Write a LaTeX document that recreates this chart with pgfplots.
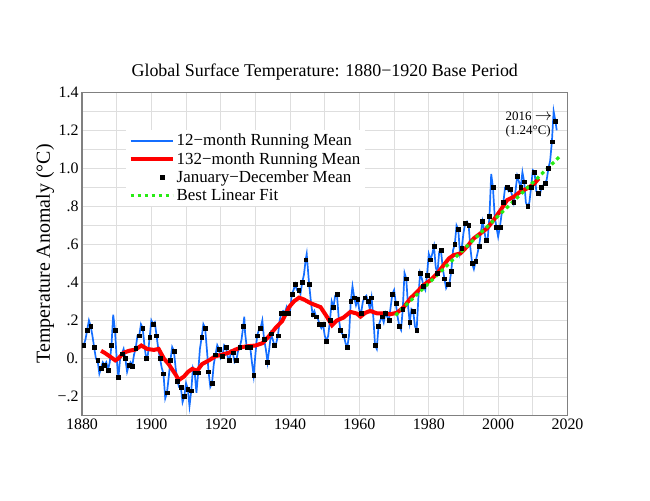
\documentclass[border=0pt]{standalone}
\usepackage{pgfplots}
\pgfplotsset{compat=1.18}
\usepackage{fontspec}
\setmainfont{Liberation Serif}
\definecolor{gridgray}{RGB}{222,222,222}
\definecolor{framegray}{RGB}{128,128,128}
\definecolor{myblue}{RGB}{20,110,255}
\definecolor{mygreen}{RGB}{40,235,20}

\pgfplotstableread{
x y
1880.5 0.07
1881.5 0.15
1882.5 0.17
1883.5 0.06
1884.5 -0.01
1885.5 -0.05
1886.5 -0.035
1887.5 -0.06
1888.5 0.07
1889.5 0.15
1890.5 -0.10
1891.5 0.025
1892.5 0.00
1893.5 -0.035
1894.5 -0.04
1895.5 0.055
1896.5 0.12
1897.5 0.16
1898.5 0.00
1899.5 0.11
1900.5 0.18
1901.5 0.12
1902.5 0.00
1903.5 -0.08
1904.5 -0.18
1905.5 -0.01
1906.5 0.04
1907.5 -0.12
1908.5 -0.15
1909.5 -0.20
1910.5 -0.16
1911.5 -0.17
1912.5 -0.075
1913.5 -0.075
1914.5 0.11
1915.5 0.16
1916.5 -0.07
1917.5 -0.13
1918.5 0.02
1919.5 0.05
1920.5 0.01
1921.5 0.06
1922.5 -0.01
1923.5 0.03
1924.5 -0.01
1925.5 0.06
1926.5 0.17
1927.5 0.06
1928.5 0.06
1929.5 -0.09
1930.5 0.12
1931.5 0.16
1932.5 0.10
1933.5 -0.02
1934.5 0.13
1935.5 0.07
1936.5 0.12
1937.5 0.24
1938.5 0.24
1939.5 0.24
1940.5 0.34
1941.5 0.39
1942.5 0.36
1943.5 0.40
1944.5 0.52
1945.5 0.39
1946.5 0.23
1947.5 0.22
1948.5 0.18
1949.5 0.18
1950.5 0.09
1951.5 0.20
1952.5 0.27
1953.5 0.34
1954.5 0.15
1955.5 0.12
1956.5 0.06
1957.5 0.30
1958.5 0.32
1959.5 0.31
1960.5 0.24
1961.5 0.32
1962.5 0.30
1963.5 0.32
1964.5 0.07
1965.5 0.17
1966.5 0.22
1967.5 0.24
1968.5 0.20
1969.5 0.34
1970.5 0.29
1971.5 0.17
1972.5 0.26
1973.5 0.42
1974.5 0.19
1975.5 0.25
1976.5 0.15
1977.5 0.45
1978.5 0.38
1979.5 0.44
1980.5 0.52
1981.5 0.59
1982.5 0.45
1983.5 0.57
1984.5 0.42
1985.5 0.39
1986.5 0.46
1987.5 0.60
1988.5 0.68
1989.5 0.58
1990.5 0.71
1991.5 0.70
1992.5 0.50
1993.5 0.51
1994.5 0.59
1995.5 0.72
1996.5 0.62
1997.5 0.75
1998.5 0.90
1999.5 0.69
2000.5 0.69
2001.5 0.82
2002.5 0.90
2003.5 0.89
2004.5 0.82
2005.5 0.96
2006.5 0.90
2007.5 0.93
2008.5 0.80
2009.5 0.90
2010.5 0.98
2011.5 0.87
2012.5 0.90
2013.5 0.92
2014.5 1.00
2015.5 1.14
2016.5 1.25
}\annual

\pgfplotstableread{
x y
1880.5 0.07
1881.0 0.10
1881.5 0.15
1882.0 0.20
1882.5 0.17
1883.0 0.12
1883.5 0.06
1884.0 0.00
1884.5 -0.01
1885.0 -0.08
1885.5 -0.05
1886.0 -0.02
1886.5 -0.035
1887.0 -0.02
1887.5 -0.06
1888.0 -0.02
1888.5 0.07
1889.0 0.23
1889.5 0.15
1890.0 0.00
1890.5 -0.10
1891.0 0.00
1891.5 0.025
1892.0 0.05
1892.5 0.00
1893.0 -0.07
1893.5 -0.035
1894.0 -0.02
1894.5 -0.04
1895.0 0.02
1895.5 0.055
1896.0 0.12
1896.5 0.12
1897.0 0.18
1897.5 0.16
1898.0 0.07
1898.5 0.00
1899.0 0.02
1899.5 0.11
1900.0 0.20
1900.5 0.18
1901.0 0.19
1901.5 0.12
1902.0 0.05
1902.5 0.00
1903.0 -0.05
1903.5 -0.08
1904.0 -0.21
1904.5 -0.18
1905.0 -0.10
1905.5 -0.01
1906.0 0.06
1906.5 0.04
1907.0 -0.05
1907.5 -0.12
1908.0 -0.15
1908.5 -0.15
1909.0 -0.23
1909.5 -0.20
1910.0 -0.13
1910.5 -0.16
1911.0 -0.25
1911.5 -0.17
1912.0 -0.05
1912.5 -0.075
1913.0 -0.18
1913.5 -0.075
1914.0 0.05
1914.5 0.11
1915.0 0.18
1915.5 0.16
1916.0 0.05
1916.5 -0.07
1917.0 -0.15
1917.5 -0.13
1918.0 -0.03
1918.5 0.02
1919.0 0.07
1919.5 0.05
1920.0 0.00
1920.5 0.01
1921.0 0.07
1921.5 0.06
1922.0 0.01
1922.5 -0.01
1923.0 0.04
1923.5 0.03
1924.0 -0.02
1924.5 -0.01
1925.0 0.04
1925.5 0.06
1926.0 0.10
1926.5 0.17
1926.8 0.22
1927.0 0.14
1927.5 0.06
1928.0 0.06
1928.5 0.06
1929.0 -0.02
1929.5 -0.09
1930.0 0.02
1930.5 0.12
1931.0 0.15
1931.5 0.16
1932.0 0.20
1932.5 0.10
1933.0 0.05
1933.5 -0.02
1934.0 0.05
1934.5 0.13
1935.0 0.10
1935.5 0.07
1936.0 0.08
1936.5 0.12
1937.0 0.20
1937.5 0.24
1938.0 0.25
1938.5 0.24
1939.0 0.27
1939.5 0.24
1940.0 0.25
1940.5 0.34
1941.0 0.36
1941.5 0.39
1942.0 0.36
1942.5 0.36
1943.0 0.34
1943.5 0.40
1944.0 0.44
1944.5 0.52
1944.8 0.55
1945.0 0.50
1945.5 0.39
1946.0 0.30
1946.5 0.23
1947.0 0.25
1947.5 0.22
1948.0 0.21
1948.5 0.18
1949.0 0.16
1949.5 0.18
1950.0 0.12
1950.5 0.09
1951.0 0.12
1951.5 0.20
1952.0 0.30
1952.5 0.27
1953.0 0.33
1953.5 0.34
1954.0 0.22
1954.5 0.15
1955.0 0.13
1955.5 0.12
1956.0 0.08
1956.5 0.06
1957.0 0.12
1957.5 0.30
1958.0 0.38
1958.5 0.32
1959.0 0.28
1959.5 0.31
1960.0 0.25
1960.5 0.24
1961.0 0.30
1961.5 0.32
1962.0 0.33
1962.5 0.30
1963.0 0.26
1963.5 0.32
1964.0 0.22
1964.5 0.07
1965.0 0.05
1965.5 0.17
1966.0 0.20
1966.5 0.22
1967.0 0.19
1967.5 0.24
1968.0 0.22
1968.5 0.20
1969.0 0.27
1969.5 0.34
1970.0 0.36
1970.5 0.29
1971.0 0.22
1971.5 0.17
1972.0 0.15
1972.5 0.26
1973.0 0.45
1973.5 0.42
1974.0 0.28
1974.5 0.19
1975.0 0.26
1975.5 0.25
1976.0 0.17
1976.5 0.15
1977.0 0.32
1977.5 0.45
1978.0 0.42
1978.5 0.38
1979.0 0.36
1979.5 0.44
1980.0 0.55
1980.5 0.52
1981.0 0.55
1981.5 0.59
1982.0 0.48
1982.5 0.45
1983.0 0.56
1983.5 0.57
1984.0 0.48
1984.5 0.42
1985.0 0.37
1985.5 0.39
1986.0 0.40
1986.5 0.46
1987.0 0.57
1987.5 0.60
1988.0 0.70
1988.5 0.68
1989.0 0.55
1989.5 0.58
1990.0 0.66
1990.5 0.71
1991.0 0.72
1991.5 0.70
1992.0 0.58
1992.5 0.50
1993.0 0.47
1993.5 0.51
1994.0 0.55
1994.5 0.59
1995.0 0.66
1995.5 0.72
1996.0 0.67
1996.5 0.62
1997.0 0.63
1997.5 0.75
1998.0 0.97
1998.5 0.90
1999.0 0.75
1999.5 0.69
2000.0 0.64
2000.5 0.69
2001.0 0.76
2001.5 0.82
2002.0 0.90
2002.5 0.90
2003.0 0.88
2003.5 0.89
2004.0 0.86
2004.5 0.82
2005.0 0.88
2005.5 0.96
2006.0 0.93
2006.5 0.90
2007.0 0.98
2007.5 0.93
2008.0 0.82
2008.5 0.80
2009.0 0.82
2009.5 0.90
2010.0 0.99
2010.5 0.98
2011.0 0.88
2011.5 0.87
2012.0 0.86
2012.5 0.90
2013.0 0.91
2013.5 0.92
2014.0 0.94
2014.5 1.00
2015.0 1.04
2015.5 1.14
2016.0 1.30
2016.5 1.25
2016.9 1.20
}\monthly

\pgfplotstableread{
x y
1885.5 0.04
1886.5 0.03
1887.7 0.015
1889.6 -0.01
1890.5 0.00
1892.0 0.03
1893.5 0.04
1895.4 0.047
1897.1 0.068
1898.8 0.05
1900.7 0.045
1902.1 0.05
1903.6 0.00
1905.0 -0.03
1907.0 -0.085
1907.9 -0.114
1909.4 -0.095
1910.6 -0.07
1911.8 -0.055
1913.2 -0.065
1914.6 -0.03
1916.6 -0.01
1918.5 0.012
1920.4 0.02
1922.3 0.03
1924.3 0.047
1926.2 0.06
1928.1 0.065
1930.0 0.068
1932.0 0.08
1933.9 0.117
1935.8 0.16
1937.7 0.196
1939.7 0.27
1941.1 0.30
1942.6 0.32
1944.0 0.31
1946.0 0.29
1947.4 0.28
1948.8 0.27
1950.6 0.22
1952.1 0.175
1953.5 0.20
1955.4 0.215
1957.4 0.245
1959.3 0.236
1960.3 0.22
1961.7 0.24
1963.1 0.25
1965.1 0.237
1967.0 0.237
1968.9 0.233
1970.8 0.24
1972.8 0.27
1974.7 0.316
1976.6 0.35
1978.5 0.386
1980.5 0.412
1982.4 0.447
1984.3 0.491
1985.8 0.526
1987.2 0.544
1989.1 0.552
1991.0 0.588
1993.0 0.632
1994.9 0.658
1996.8 0.684
1998.7 0.728
2000.7 0.78
2002.6 0.833
2004.5 0.85
2006.4 0.877
2008.4 0.895
2010.3 0.917
2011.7 0.947
}\smooth

\begin{document}
\begin{tikzpicture}
\path[use as bounding box] (0,0) rectangle (650bp,501bp);
\begin{axis}[
  at={(82bp,85.5bp)}, anchor=south west, scale only axis,
  width=485.5bp, height=323.2bp,
  xmin=1880, xmax=2020, ymin=-0.3, ymax=1.4,
  xtick={1880,1900,1920,1940,1960,1980,2000,2020},
  xticklabels={1880,1900,1920,1940,1960,1980,2000,2020},
  minor xtick={1890,1910,1930,1950,1970,1990,2010},
  ytick={-0.2,0,0.2,0.4,0.6,0.8,1.0,1.2,1.4},
  yticklabels={−.2,0.,.2,.4,.6,.8,1.0,1.2,1.4},
  minor ytick={-0.1,0.1,0.3,0.5,0.7,0.9,1.1,1.3},
  grid=both,
  major grid style={gridgray, line width=0.9bp},
  minor grid style={gridgray, line width=0.9bp},
  axis line style={framegray, line width=1.1bp},
  major tick length=0pt, minor tick length=0pt,
  tick label style={font=\fontsize{16}{16}\selectfont},
  title={Global Surface Temperature: 1880−1920 Base Period},
  title style={font=\fontsize{18}{18}\selectfont, at={(axis description cs:0.5,1)}, anchor=base, yshift=10.3bp},
  ylabel={Temperature Anomaly (°C)},
  ylabel style={font=\fontsize{20}{20}\selectfont, at={(axis description cs:-0.076,0.5)}, anchor=center},
  legend style={at={(axis description cs:0.0896,0.8834)}, anchor=north west, draw=none, fill=white,
    font=\fontsize{17}{17}\selectfont, row sep=1.2bp},
  legend cell align=left,
]
\addplot[myblue, line width=1.7bp, legend image code/.code={\draw[myblue, line width=1.5bp] (0bp,0bp) -- (42bp,0bp);}] table[x=x,y=y] {\monthly};
\addlegendentry{12−month Running Mean}
\addplot[red, line width=4bp, legend image code/.code={\draw[red, line width=4bp] (0bp,0bp) -- (42bp,0bp);}] table[x=x,y=y] {\smooth};
\addlegendentry{132−month Running Mean}
\addplot[only marks, mark=square*, mark size=1.9bp, black, mark options={draw=none, fill=black}, legend image code/.code={\fill[black] (29.8bp,-2bp) rectangle (33.8bp,2bp);}] table[x=x,y=y] {\annual};
\addlegendentry{January−December Mean}
\addplot[mygreen, line width=3.2bp, dash pattern=on 3.5bp off 3.5bp, legend image code/.code={\draw[mygreen, line width=3.2bp, dash pattern=on 3.5bp off 3.5bp] (0bp,0bp) -- (42bp,0bp);}] coordinates {(1970.4,0.227) (2018.2,1.070)};
\addlegendentry{Best Linear Fit}
\node[anchor=north west, align=left, inner sep=0pt, font=\fontsize{13}{14.5}\selectfont] at (axis cs:2002.1,1.300) {2016 {\fontsize{17}{17}\selectfont$\rightarrow$}\\(1.24°C)};
\end{axis}
\end{tikzpicture}
\end{document}
